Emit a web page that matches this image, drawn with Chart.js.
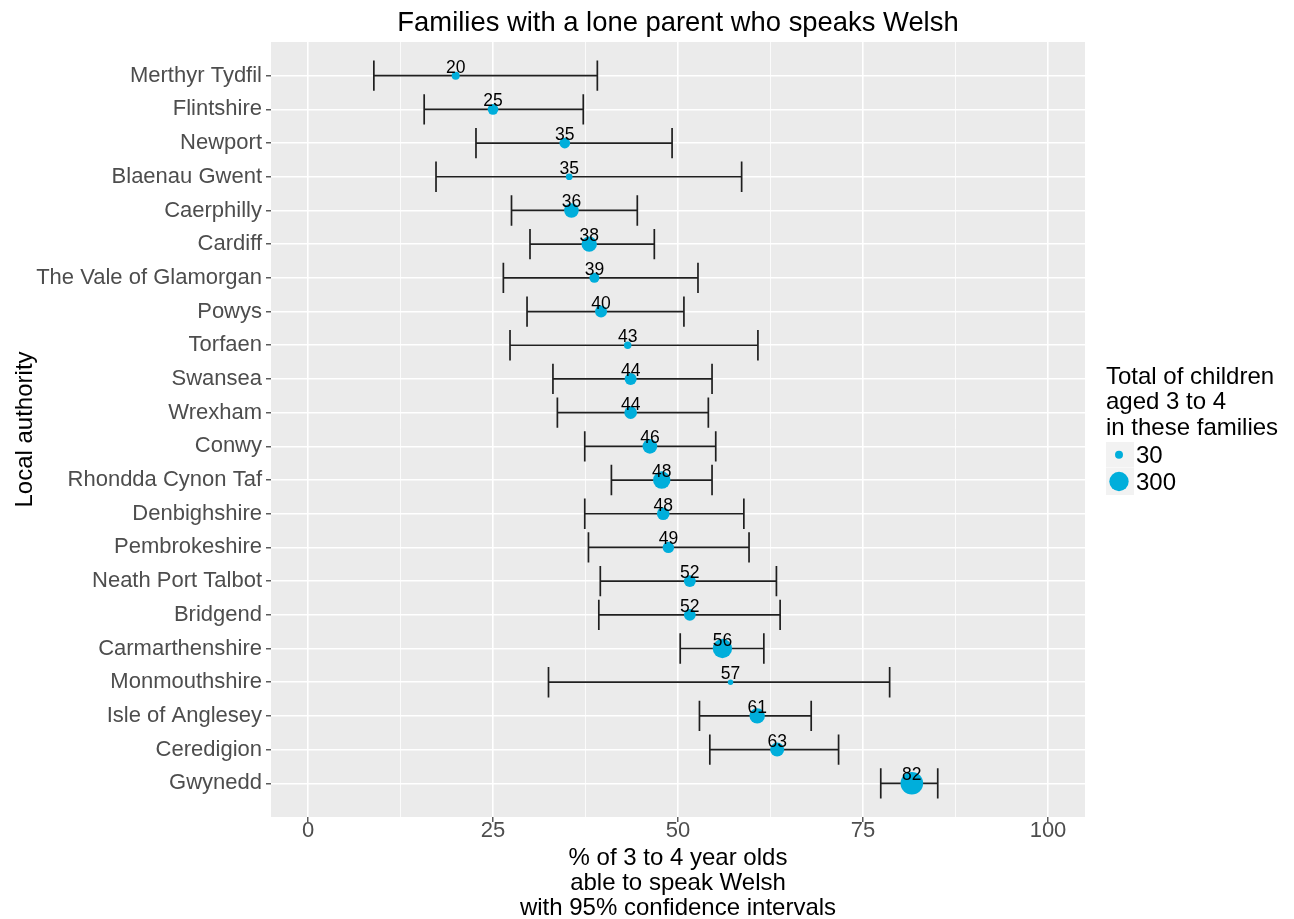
<!DOCTYPE html>
<html>
<head>
<meta charset="utf-8">
<script src="https://cdn.jsdelivr.net/npm/chart.js@4.4.0/dist/chart.umd.min.js"></script>
<style>
html,body{margin:0;padding:0;background:#ffffff;}
canvas{display:block;background:#ffffff;}
</style>
</head>
<body>
<canvas id="chart" width="1294" height="919"></canvas>
<script>
// ---- data ----
const categories = [
  "Merthyr Tydfil","Flintshire","Newport","Blaenau Gwent","Caerphilly","Cardiff",
  "The Vale of Glamorgan","Powys","Torfaen","Swansea","Wrexham","Conwy",
  "Rhondda Cynon Taf","Denbighshire","Pembrokeshire","Neath Port Talbot","Bridgend",
  "Carmarthenshire","Monmouthshire","Isle of Anglesey","Ceredigion","Gwynedd"
];
const pctWelsh = [19.96,25.0,34.7,35.3,35.6,38.0,38.7,39.6,43.2,43.6,43.6,46.2,47.8,48.0,48.7,51.6,51.6,56.0,57.1,60.7,63.4,81.6];
const lowerCI  = [8.9,15.7,22.7,17.3,27.5,30.0,26.4,29.6,27.3,33.1,33.7,37.4,41.0,37.4,37.9,39.5,39.3,50.3,32.5,52.9,54.3,77.4];
const upperCI  = [39.1,37.2,49.2,58.6,44.5,46.8,52.7,50.8,60.8,54.6,54.1,55.1,54.6,58.9,59.6,63.3,63.8,61.6,78.6,68.0,71.7,85.1];
const childCounts = [30,68,68,17,153,173,57,93,24,93,107,153,233,107,81,93,90,300,8,174,137,427];
const xTickValues = [0,25,50,75,100];
const xMinorValues = [12.5,37.5,62.5,87.5];
const legendCounts = [30,300];

const titleText = "Families with a lone parent who speaks Welsh";
const xTitleLines = ["% of 3 to 4 year olds","able to speak Welsh","with 95% confidence intervals"];
const yTitleText = "Local authority";
const legendTitleLines = ["Total of children","aged 3 to 4","in these families"];

// ---- styling ----
const FONT = "'Liberation Sans', Arial, Helvetica, sans-serif";
const POINT_COLOR = "#00AEDB";
const BAR_COLOR = "#1f1f1f";
function radiusFor(n){ return 1.36 + 0.481*Math.sqrt(n); }

const bubbleData = pctWelsh.map((v,i)=>({x:v, y:i, r:radiusFor(childCounts[i])}));

const panelBackground = {
  id:'panelBackground',
  beforeDraw(chart){
    const {ctx, chartArea:a} = chart;
    ctx.save();
    ctx.fillStyle = '#EBEBEB';
    ctx.fillRect(a.left, a.top, a.right-a.left, a.bottom-a.top);
    ctx.restore();
  }
};

const errorBars = {
  id:'errorBars',
  beforeDatasetsDraw(chart){
    const {ctx, scales:{x,y}} = chart;
    ctx.save();
    ctx.strokeStyle = BAR_COLOR;
    ctx.lineWidth = 1.7;
    categories.forEach((c,i)=>{
      const yc = y.getPixelForValue(i);
      const yt = y.getPixelForValue(i-0.45);
      const yb = y.getPixelForValue(i+0.45);
      const xl = x.getPixelForValue(lowerCI[i]);
      const xr = x.getPixelForValue(upperCI[i]);
      ctx.beginPath();
      ctx.moveTo(xl, yc); ctx.lineTo(xr, yc);
      ctx.moveTo(xl, yt); ctx.lineTo(xl, yb);
      ctx.moveTo(xr, yt); ctx.lineTo(xr, yb);
      ctx.stroke();
    });
    ctx.restore();
  }
};

const valueLabels = {
  id:'valueLabels',
  afterDatasetsDraw(chart){
    const {ctx, scales:{x,y}} = chart;
    ctx.save();
    ctx.fillStyle = '#000';
    ctx.font = `17.5px ${FONT}`;
    ctx.textAlign = 'center';
    ctx.textBaseline = 'alphabetic';
    pctWelsh.forEach((v,i)=>{
      ctx.fillText(String(Math.round(v)), x.getPixelForValue(v), y.getPixelForValue(i)-3);
    });
    ctx.restore();
  }
};

const sizeLegend = {
  id:'sizeLegend',
  afterDraw(chart){
    const ctx = chart.ctx;
    ctx.save();
    ctx.fillStyle = '#000';
    ctx.font = `24px ${FONT}`;
    ctx.textAlign = 'left';
    ctx.textBaseline = 'alphabetic';
    const lx = 1106;
    legendTitleLines.forEach((t,k)=> ctx.fillText(t, lx, 384 + k*25.3));
    const boxes = [{top:442,h:25.5},{top:468,h:27}];
    legendCounts.forEach((n,k)=>{
      const b = boxes[k];
      ctx.fillStyle = '#F2F2F2';
      ctx.fillRect(lx, b.top, 28, b.h);
      const cy = b.top + b.h/2;
      ctx.fillStyle = POINT_COLOR;
      ctx.beginPath();
      ctx.arc(lx+13, cy, radiusFor(n), 0, Math.PI*2);
      ctx.fill();
      ctx.fillStyle = '#000';
      ctx.font = `24px ${FONT}`;
      ctx.textBaseline = 'middle';
      ctx.fillText(String(n), lx+30, cy+1.5);
    });
    ctx.restore();
  }
};

const isMajorX = v => xTickValues.includes(v);

new Chart(document.getElementById('chart'), {
  type:'bubble',
  data:{datasets:[{
    data:bubbleData,
    backgroundColor:POINT_COLOR,
    borderWidth:0,
    hoverBorderWidth:0,
    hoverRadius:0
  }]},
  options:{
    responsive:false,
    animation:false,
    devicePixelRatio:1,
    events:[],
    layout:{padding:{left:0,right:209,top:0,bottom:0}},
    plugins:{
      legend:{display:false},
      tooltip:{enabled:false},
      title:{
        display:true, text:titleText, fullSize:false, color:'#000',
        font:{family:FONT, size:27.4, weight:'normal', lineHeight:1.2},
        padding:{top:7.0, bottom:2.1}
      }
    },
    scales:{
      x:{
        type:'linear', min:-5, max:105,
        afterBuildTicks(s){ s.ticks = [...xTickValues, ...xMinorValues].sort((a,b)=>a-b).map(v=>({value:v})); },
        afterFit(s){ s.height = 102; },
        border:{display:false},
        grid:{
          color:'#FFFFFF',
          lineWidth:c=> (c.tick && isMajorX(c.tick.value)) ? 1.6 : 0.8,
          drawTicks:true, tickLength:5,
          tickColor:c=> (c.tick && isMajorX(c.tick.value)) ? '#333333' : 'rgba(0,0,0,0)',
          tickWidth:1.2
        },
        ticks:{
          callback:v=> isMajorX(v) ? String(v) : '',
          color:'#4D4D4D', font:{family:FONT, size:22, lineHeight:0.8},
          padding:0.5, autoSkip:false, maxRotation:0, minRotation:0
        },
        title:{
          display:true, text:xTitleLines, color:'#000',
          font:{family:FONT, size:24, lineHeight:1.04},
          padding:{top:0,bottom:-2}
        }
      },
      y:{
        type:'linear', reverse:true, min:-1, max:22,
        afterBuildTicks(s){ s.ticks = categories.map((_,i)=>({value:i})); },
        afterFit(s){ s.width = 271; },
        border:{display:false},
        grid:{color:'#FFFFFF', lineWidth:1.6, drawTicks:true, tickLength:5, tickColor:'#333333', tickWidth:1.2},
        ticks:{
          callback:v=> categories[v] !== undefined ? categories[v] : '',
          color:'#4D4D4D', font:{family:FONT, size:22}, padding:4, autoSkip:false
        },
        title:{
          display:true, text:yTitleText, color:'#000',
          font:{family:FONT, size:24, lineHeight:1.2},
          padding:{top:11,bottom:0}
        }
      }
    }
  },
  plugins:[panelBackground, errorBars, valueLabels, sizeLegend]
});
</script>
</body>
</html>
